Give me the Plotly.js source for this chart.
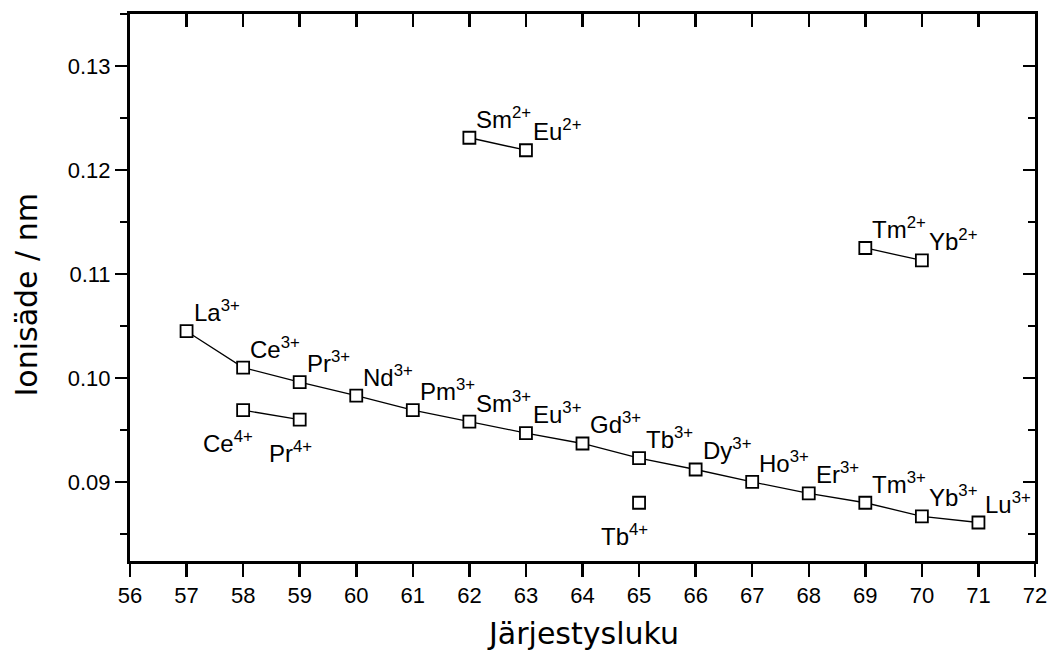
<!DOCTYPE html>
<html>
<head>
<meta charset="utf-8">
<script src="https://cdn.plot.ly/plotly-3.0.1.min.js"></script>
<style>html,body{margin:0;padding:0;background:#fff;}</style>
</head>
<body>
<div id="chart" style="width:1051px;height:652px;"></div>
<script>
// Atomic numbers and ionic radii (nm)
const z3 = [57, 58, 59, 60, 61, 62, 63, 64, 65, 66, 67, 68, 69, 70, 71];
const r3 = [0.1045, 0.1010, 0.0996, 0.0983, 0.0969, 0.0958, 0.0947, 0.0937, 0.0923, 0.0912, 0.0900, 0.0889, 0.0880, 0.0867, 0.0861];
const el3 = ["La", "Ce", "Pr", "Nd", "Pm", "Sm", "Eu", "Gd", "Tb", "Dy", "Ho", "Er", "Tm", "Yb", "Lu"];

const z4a = [58, 59];
const r4a = [0.0969, 0.0960];
const el4a = ["Ce", "Pr"];

const z4b = [65];
const r4b = [0.0880];
const el4b = ["Tb"];

const z2a = [62, 63];
const r2a = [0.1231, 0.1219];
const el2a = ["Sm", "Eu"];

const z2b = [69, 70];
const r2b = [0.1125, 0.1113];
const el2b = ["Tm", "Yb"];

const xTicks = [56, 57, 58, 59, 60, 61, 62, 63, 64, 65, 66, 67, 68, 69, 70, 71, 72];
const yTicks = [0.09, 0.10, 0.11, 0.12, 0.13];
const xTitle = "Järjestysluku";
const yTitle = "Ionisäde / nm";

const marker = {symbol: "square", size: 12, color: "#fff", line: {color: "#000", width: 1.8}};
const line = {color: "#000", width: 1.3};
function series(x, y) {
  return {x: x, y: y, type: "scatter", mode: "lines+markers", marker: marker, line: line,
          showlegend: false, hoverinfo: "x+y", cliponaxis: false};
}
const data = [series(z3, r3), series(z4a, r4a), series(z4b, r4b), series(z2a, r2a), series(z2b, r2b)];

const annFont = {family: "Liberation Sans, Arial, Helvetica, sans-serif", size: 24, color: "#000"};
const annotations = [];
function labelsAbove(x, y, el, charge) {
  for (let i = 0; i < x.length; i++) {
    annotations.push({x: x[i], y: y[i], xref: "x", yref: "y",
      text: el[i] + "<sup>" + charge + "</sup>", showarrow: false,
      xanchor: "left", yanchor: "bottom", xshift: 5, yshift: 3, font: annFont});
  }
}
function labelsBelow(x, y, el, charge, dx) {
  for (let i = 0; i < x.length; i++) {
    annotations.push({x: x[i], y: y[i], xref: "x", yref: "y",
      text: el[i] + "<sup>" + charge + "</sup>", showarrow: false,
      xanchor: "center", yanchor: "top", xshift: dx[i], yshift: -15, font: annFont});
  }
}
labelsAbove(z3, r3, el3, "3+");
labelsAbove(z2a, r2a, el2a, "2+");
labelsAbove(z2b, r2b, el2b, "2+");
labelsBelow(z4a, r4a, el4a, "4+", [-15, -9]);
labelsBelow(z4b, r4b, el4b, "4+", [-15]);

const titleFont = {family: "DejaVu Sans, Verdana, sans-serif", size: 30, color: "#000"};
// axis titles (placed as paper annotations for exact position)
annotations.push({xref: "paper", yref: "paper", x: 0.5, y: 0, yshift: -72, xanchor: "center", yanchor: "middle",
  text: xTitle, showarrow: false, font: titleFont});
annotations.push({xref: "paper", yref: "paper", x: 0, y: 0.5, xshift: -104, yshift: -8, xanchor: "center", yanchor: "middle",
  textangle: -90, text: yTitle, showarrow: false, font: titleFont});

const tickFont = {family: "Liberation Sans, Arial, Helvetica, sans-serif", size: 22, color: "#000"};
const xRange = [56, 72];
const yRange = [0.0824, 0.1350];

const layout = {
  width: 1051, height: 652,
  margin: {l: 130, r: 16, t: 14, b: 91},
  paper_bgcolor: "#fff", plot_bgcolor: "#fff",
  showlegend: false,
  xaxis: {
    range: xRange, tickvals: xTicks, ticktext: xTicks.map(String),
    ticks: "outside", ticklen: 13, tickwidth: 2.5, tickcolor: "#000",
    showline: true, linewidth: 3, linecolor: "#000", mirror: true,
    showgrid: false, zeroline: false, tickfont: tickFont
  },
  xaxis2: {
    range: xRange, overlaying: "x", side: "top", tickvals: xTicks,
    ticks: "inside", ticklen: 13, tickwidth: 2.5, tickcolor: "#000",
    showticklabels: false, showline: false, showgrid: false, zeroline: false
  },
  yaxis: {
    range: yRange, tickvals: yTicks, tickformat: ".2f",
    ticks: "outside", ticklen: 12, tickwidth: 2.5, tickcolor: "#000",
    minor: {dtick: 0.005, tick0: 0.08, ticks: "outside", ticklen: 7, tickwidth: 2.5, tickcolor: "#000", showgrid: false},
    showline: true, linewidth: 3, linecolor: "#000", mirror: true,
    showgrid: false, zeroline: false, tickfont: tickFont
  },
  yaxis2: {
    range: yRange, overlaying: "y", side: "right", tickvals: yTicks,
    ticks: "inside", ticklen: 12, tickwidth: 2.5, tickcolor: "#000",
    minor: {dtick: 0.005, tick0: 0.08, ticks: "inside", ticklen: 7, tickwidth: 2.5, tickcolor: "#000", showgrid: false},
    showticklabels: false, showline: false, showgrid: false, zeroline: false
  },
  annotations: annotations
};

// invisible trace to activate the mirrored tick axes
data.push({x: [56], y: [0.1], xaxis: "x2", yaxis: "y2", mode: "markers", marker: {opacity: 0}, showlegend: false, hoverinfo: "skip"});

Plotly.newPlot("chart", data, layout, {displayModeBar: false, staticPlot: true});
</script>
</body>
</html>
